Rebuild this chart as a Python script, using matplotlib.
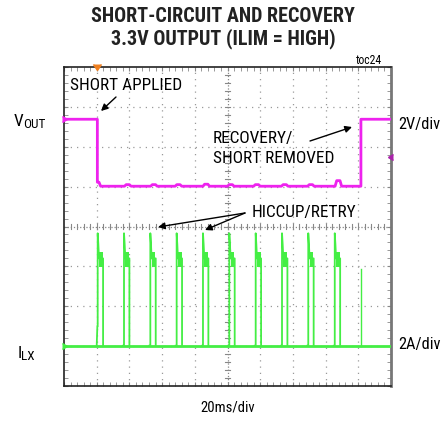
import numpy as np
import matplotlib
matplotlib.use("Agg")
import matplotlib.pyplot as plt
from matplotlib.ticker import MultipleLocator

# ---------------- data (in screen divisions: x 0..10, y 0..8) ----------------
short_time = 1.02          # div (20 ms/div)
recovery_time = 9.08
vout_high = 6.69           # div (2 V/div)
vout_low = 5.01
vout_bump_times = [1.90, 2.70, 3.45, 4.30, 5.05, 5.85, 6.70, 7.50, 8.34]
vout_bump_heights = [0.04, 0.04, 0.04, 0.05, 0.04, 0.04, 0.04, 0.04, 0.14]

ilx_base = 1.01            # div (2 A/div)
pulse_starts = [1.03, 1.835, 2.64, 3.445, 4.25, 5.055, 5.862, 6.667, 7.47, 8.28]
pulse_peak = 3.83
pulse_plateau_hi = 3.35
pulse_plateau_lo = 2.98
pulse_width = 0.165
last_spike_time = 9.09
last_spike_height = 2.93

FONT = ['Roboto Condensed', 'Liberation Sans', 'DejaVu Sans']
MAG = '#ee22ee'
GRN = '#44ee44'

W, H = 441, 424
fig = plt.figure(figsize=(W / 100, H / 100), dpi=100)
L, R, T, B = 64, 391, 67, 386
ax = fig.add_axes([L / W, 1 - B / H, (R - L) / W, (B - T) / H])
ax.set_xlim(0, 10)
ax.set_ylim(0, 8)

# grid
for i in range(1, 10):
    if i != 5:
        ax.axvline(i, color='#9a9a9a', lw=0.9, ls=(0, (1, 4)), zorder=1)
for j in range(1, 8):
    if j != 4:
        ax.axhline(j, color='#9a9a9a', lw=0.9, ls=(0, (1, 4)), zorder=1)
ax.axvline(5, color='#888888', lw=0.9, ls=(0, (1, 1.5)), zorder=1)
ax.axhline(4, color='#888888', lw=0.9, ls=(0, (1, 1.5)), zorder=1)
for k in np.arange(0.2, 10, 0.2):
    ax.plot([k, k], [4 - 0.06, 4 + 0.06], color='#888888', lw=0.8, zorder=1)
for k in np.arange(0.2, 8, 0.2):
    ax.plot([5 - 0.07, 5 + 0.07], [k, k], color='#888888', lw=0.8, zorder=1)

ax.xaxis.set_major_locator(MultipleLocator(1))
ax.xaxis.set_minor_locator(MultipleLocator(0.2))
ax.yaxis.set_major_locator(MultipleLocator(1))
ax.yaxis.set_minor_locator(MultipleLocator(0.2))
ax.tick_params(which='both', direction='in', length=3, color='#888888',
               top=True, right=True, labelbottom=False, labelleft=False)
for s in ['left', 'bottom', 'top']:
    ax.spines[s].set_color('#222222')
    ax.spines[s].set_linewidth(1.2)
ax.spines['right'].set_color('#777777')
ax.spines['right'].set_linewidth(2.0)

# ---------------- VOUT trace ----------------
vx = [0, short_time, short_time, short_time + 0.05, short_time + 0.1]
vy = [vout_high, vout_high, vout_low + 0.1, vout_low + 0.1, vout_low]
for bt, bh in zip(vout_bump_times, vout_bump_heights):
    vx += [bt - 0.05, bt, bt + 0.1, bt + 0.15]
    vy += [vout_low, vout_low + bh, vout_low + bh, vout_low]
vx += [recovery_time, recovery_time, 10]
vy += [vout_low, vout_high, vout_high]
ax.plot(vx, vy, color=MAG, lw=2.0, zorder=3)

# ---------------- ILX trace ----------------
ax.plot([0, 10], [ilx_base, ilx_base], color=GRN, lw=2.0, zorder=3)
for n, t0 in enumerate(pulse_starts):
    xs = [t0 - 0.03, t0 - 0.01, t0, t0, t0 + 0.02, t0 + 0.04,
          t0 + pulse_width, t0 + pulse_width]
    pre = 1.5 if n == 0 else ilx_base
    ys = [ilx_base, pre, pre, pulse_peak, 3.55, 3.2, 3.2, ilx_base]
    ax.plot(xs, ys, color=GRN, lw=1.3, zorder=3)
    ax.fill_between([t0 + 0.04, t0 + pulse_width - 0.01],
                    pulse_plateau_lo, pulse_plateau_hi, color=GRN, lw=0, zorder=3)
ax.plot([last_spike_time, last_spike_time], [ilx_base, last_spike_height],
        color=GRN, lw=1.0, zorder=3)

# markers
ax.plot([0.1], [vout_high], marker=5, color=MAG, ms=5, clip_on=False, zorder=4)
ax.plot([0.1], [ilx_base], marker=5, color=GRN, ms=5, clip_on=False, zorder=4)
ax.plot([9.9], [5.74], marker=4, color='#aa22aa', ms=5, clip_on=False, zorder=4)
ax.plot([short_time], [7.93], marker=7, color='#f08020', ms=6, clip_on=False, zorder=4)

# ---------------- annotations ----------------
def d(px, py):
    return ((px - L) / (R - L) * 10, (B - py) / (B - T) * 8)

ax.text(*d(70, 86), 'SHORT APPLIED', family=FONT, fontsize=12.4, va='center', ha='left')
ax.text(*d(213, 139), 'RECOVERY/', family=FONT, fontsize=12.4, va='center', ha='left')
ax.text(*d(213, 159), 'SHORT REMOVED', family=FONT, fontsize=12.4, va='center', ha='left')
ax.text(*d(252, 213), 'HICCUP/RETRY', family=FONT, fontsize=12.4, va='center', ha='left')

arrow = dict(arrowstyle='-|>', color='black', lw=1.0, mutation_scale=10,
             shrinkA=0, shrinkB=0)
ax.annotate('', xy=d(101, 111), xytext=d(116, 97), arrowprops=arrow)
ax.annotate('', xy=d(352, 127), xytext=d(310, 141), arrowprops=arrow)
ax.annotate('', xy=d(158, 227), xytext=d(245, 213), arrowprops=arrow)
ax.annotate('', xy=d(205, 230), xytext=d(245, 213), arrowprops=arrow)

def ft(px, py, s, **kw):
    fig.text(px / W, 1 - py / H, s, **kw)

ft(223, 17, 'SHORT-CIRCUIT AND RECOVERY', family=FONT, fontsize=14.5,
   fontweight='bold', ha='center', va='center', color='#222222')
ft(223, 39, '3.3V OUTPUT (ILIM = HIGH)', family=FONT, fontsize=14.5,
   fontweight='bold', ha='center', va='center', color='#222222')
ft(382, 61, 'toc24', family=FONT, fontsize=8.5, ha='right', va='center')
ft(14, 121, 'V', family=FONT, fontsize=12.4, ha='left', va='center')
ft(23.5, 124, 'OUT', family=FONT, fontsize=9.5, ha='left', va='center')
ft(18, 353, 'I', family=FONT, fontsize=12.4, ha='left', va='center')
ft(21, 356, 'LX', family=FONT, fontsize=9.5, ha='left', va='center')
ft(398, 125, '2V/div', family=FONT, fontsize=11.8, ha='left', va='center')
ft(398, 345, '2A/div', family=FONT, fontsize=11.8, ha='left', va='center')
ft(228, 408, '20ms/div', family=FONT, fontsize=10.5, ha='center', va='center')

fig.savefig('out.png', dpi=100)
